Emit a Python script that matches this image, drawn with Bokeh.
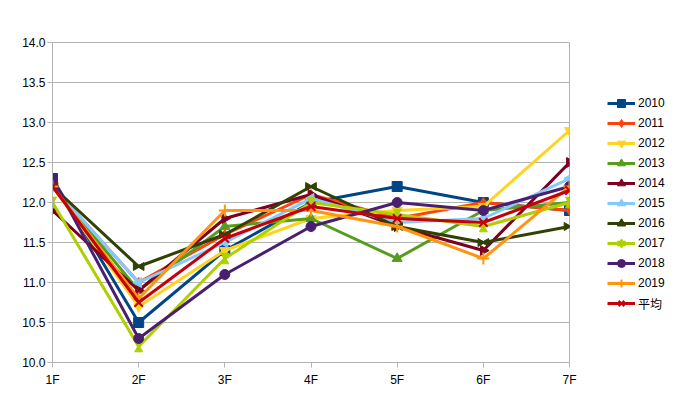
from bokeh.plotting import figure
from bokeh.models import (Range1d, FixedTicker, PrintfTickFormatter, Legend, LegendItem,
                          ColumnDataSource)
from bokeh.transform import dodge
from bokeh.embed import file_html
from bokeh.resources import INLINE

floors = ["1F", "2F", "3F", "4F", "5F", "6F", "7F"]
y_ticks = [10.0, 10.5, 11.0, 11.5, 12.0, 12.5, 13.0, 13.5, 14.0]

s2010 = [12.3, 10.5, 11.4, 12.0, 12.2, 12.0, 11.9]
s2011 = [12.2, 11.0, 11.6, 12.1, 11.8, 12.0, 11.9]
s2012 = [12.2, 10.7, 11.4, 11.8, 11.9, 11.95, 12.9]
s2013 = [12.2, 10.9, 11.7, 11.8, 11.3, 11.9, 12.0]
s2014 = [11.9, 10.9, 11.8, 12.1, 11.7, 11.4, 12.5]
s2015 = [12.2, 11.0, 11.5, 12.05, 11.75, 11.8, 12.3]
s2016 = [12.2, 11.2, 11.6, 12.2, 11.7, 11.5, 11.7]
s2017 = [12.0, 10.2, 11.3, 12.0, 11.85, 11.7, 12.0]
s2018 = [12.3, 10.3, 11.1, 11.7, 12.0, 11.9, 12.2]
s2019 = [12.2, 10.8, 11.9, 11.9, 11.7, 11.3, 12.2]
s_avg = [12.2, 10.75, 11.55, 11.95, 11.8, 11.75, 12.15]

series = [
    ("2010", s2010, "#004586", "square"),
    ("2011", s2011, "#ff420e", "diamond"),
    ("2012", s2012, "#ffd320", "inverted_triangle"),
    ("2013", s2013, "#579d1c", "triangle"),
    ("2014", s2014, "#7e0021", "tri_right"),
    ("2015", s2015, "#83caff", "tri_left"),
    ("2016", s2016, "#314004", "bowtie_h"),
    ("2017", s2017, "#aecf00", "bowtie_v"),
    ("2018", s2018, "#4b1f6f", "circle"),
    ("2019", s2019, "#ff950e", "cross"),
    ("平均", s_avg, "#c5000b", "x"),
]

FONT = "Liberation Sans, Noto Sans CJK JP"

p = figure(width=675, height=405, output_backend="svg", toolbar_location=None,
           x_range=Range1d(0, 6), y_range=Range1d(10, 14),
           frame_width=517, frame_height=320,
           min_border_left=52, min_border_top=42, min_border_right=106,
           min_border_bottom=43)
p.background_fill_color = "white"
p.border_fill_color = "white"
p.outline_line_color = "#b3b3b3"
p.outline_line_width = 1

xs = list(range(len(floors)))

p.xaxis.ticker = FixedTicker(ticks=xs)
p.xaxis.major_label_overrides = {i: f for i, f in enumerate(floors)}
p.yaxis.ticker = FixedTicker(ticks=y_ticks)
p.yaxis.formatter = PrintfTickFormatter(format="%.1f")
for ax in (p.xaxis, p.yaxis):
    ax.axis_line_color = "#b3b3b3"
    ax.major_tick_line_color = "#b3b3b3"
    ax.major_tick_in = 0
    ax.major_tick_out = 5
    ax.minor_tick_line_color = None
    ax.major_label_text_font = FONT
    ax.major_label_text_font_size = "12px"
    ax.major_label_text_color = "#000000"
p.yaxis.major_label_standoff = 2
p.xaxis.major_label_standoff = 5
p.xgrid.grid_line_color = None
p.ygrid.grid_line_color = "#b3b3b3"

items = []
SZ = 10
dy = 3.0 / 80.0
dx = 3.0 / 86.0
for name, vals, color, marker in series:
    cds = ColumnDataSource(dict(x=xs, y=vals))
    ln = p.line("x", "y", source=cds, line_color=color, line_width=3)
    rs = [ln]
    if marker == "tri_right":
        rs.append(p.scatter("x", "y", source=cds, marker="triangle", angle=-1.5708,
                            size=SZ, fill_color=color, line_color=color))
    elif marker == "tri_left":
        rs.append(p.scatter("x", "y", source=cds, marker="triangle", angle=1.5708,
                            size=SZ, fill_color=color, line_color=color))
    elif marker == "bowtie_v":
        rs.append(p.scatter("x", dodge("y", dy, range=p.y_range), source=cds,
                            marker="inverted_triangle", size=SZ - 2,
                            fill_color=color, line_color=color))
        rs.append(p.scatter("x", dodge("y", -dy, range=p.y_range), source=cds,
                            marker="triangle", size=SZ - 2,
                            fill_color=color, line_color=color))
    elif marker == "bowtie_h":
        rs.append(p.scatter(dodge("x", -dx, range=p.x_range), "y", source=cds,
                            marker="triangle", angle=-1.5708, size=SZ - 2,
                            fill_color=color, line_color=color))
        rs.append(p.scatter(dodge("x", dx, range=p.x_range), "y", source=cds,
                            marker="triangle", angle=1.5708, size=SZ - 2,
                            fill_color=color, line_color=color))
    elif marker in ("cross", "x"):
        rs.append(p.scatter("x", "y", source=cds, marker=marker, size=SZ + 2,
                            line_color=color, line_width=2))
    else:
        rs.append(p.scatter("x", "y", source=cds, marker=marker, size=SZ,
                            fill_color=color, line_color=color))
    items.append(LegendItem(label=name, renderers=rs))

legend = Legend(items=items, location=(38, 49))
legend.border_line_color = None
legend.background_fill_alpha = 0
legend.label_text_font = FONT
legend.label_text_font_size = "12px"
legend.label_text_color = "#000000"
legend.glyph_width = 28
legend.glyph_height = 20
legend.label_height = 20
legend.spacing = 0
legend.padding = 0
legend.margin = 0
legend.label_standoff = 3
p.add_layout(legend, "right")

open("out.html", "w").write(file_html(p, INLINE))
